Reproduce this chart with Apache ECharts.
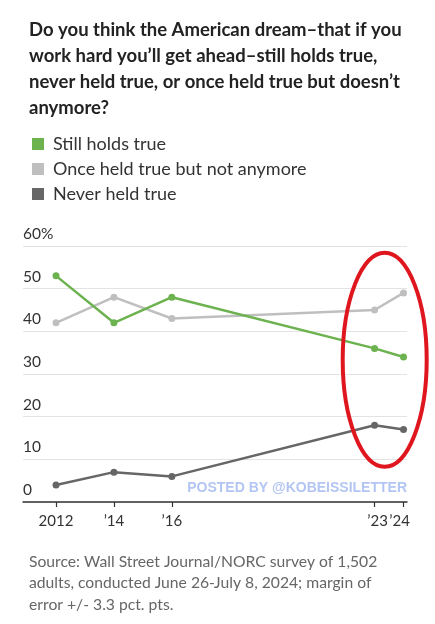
<!DOCTYPE html>
<html>
<head>
<meta charset="utf-8">
<script src="https://cdn.jsdelivr.net/npm/echarts@6/dist/echarts.min.js"></script>
<style>
html,body{margin:0;padding:0;background:#fff;}
#c{width:435px;height:624px;}
</style>
</head>
<body>
<div id="c"></div>
<script>
const years = [2012, 2014, 2016, 2023, 2024];
const tickYears = [2012, 2014, 2016, 2023, 2024];
const stillHolds = [53, 42, 48, 36, 34];
const onceHeld = [42, 48, 43, 45, 49];
const neverHeld = [4, 7, 6, 18, 17];
const seriesNames = ['Still holds true', 'Once held true but not anymore', 'Never held true'];
const yTicks = [0, 10, 20, 30, 40, 50, 60];

const FONT = 'Lato';
const colors = ['#6cb34f', '#bfbfbf', '#666666'];

function pairs(vals){ return years.map((y,i)=>[y, vals[i]]); }

const chart = echarts.init(document.getElementById('c'), null, {renderer:'canvas'});
const lineSeries = [stillHolds, onceHeld, neverHeld].map((vals, i) => ({
  name: seriesNames[i],
  type: 'line',
  data: pairs(vals),
  symbol: 'circle',
  symbolSize: 7,
  lineStyle: {width: 2.5, color: colors[i]},
  itemStyle: {color: colors[i]},
  emphasis: {disabled: true},
  z: 3 - i + 2
}));

chart.setOption({
  animation: false,
  backgroundColor: '#fff',
  textStyle: {fontFamily: FONT},
  title: [{
    text: 'Do you think the American dream–that if you\nwork hard you’ll get ahead–still holds true,\nnever held true, or once held true but doesn’t\nanymore?',
    left: 24, top: 12,
    textStyle: {fontFamily: FONT, fontWeight: 'bold', fontSize: 18.5, lineHeight: 26, color: '#222'}
  }, {
    text: 'Source: Wall Street Journal/NORC survey of 1,502\nadults, conducted June 26-July 8, 2024; margin of\nerror +/- 3.3 pct. pts.',
    left: 24, top: 546,
    textStyle: {fontFamily: FONT, fontWeight: 'normal', fontSize: 15.7, lineHeight: 21.5, color: '#666'}
  }],
  legend: {
    orient: 'vertical',
    left: 27, top: 130,
    icon: 'rect',
    itemWidth: 12, itemHeight: 12,
    itemGap: 7,
    selectedMode: false,
    textStyle: {fontFamily: FONT, fontSize: 18, lineHeight: 18, color: '#333', padding: [0,0,0,4]},
    data: seriesNames
  },
  grid: {left: 23, right: 28, top: 246, bottom: 122, containLabel: false},
  xAxis: {
    type: 'value',
    min: 2010.86, max: 2024.12,
    splitLine: {show: false},
    axisLine: {show: true, lineStyle: {color: '#333', width: 1.5}},
    axisTick: {show: true, customValues: tickYears, length: 5, lineStyle: {color: '#333', width: 1.2}},
    axisLabel: {
      customValues: tickYears,
      showMinLabel: true, showMaxLabel: true,
      hideOverlap: false,
      margin: 12,
      fontSize: 15, color: '#333', fontFamily: FONT,
      formatter: v => {
        if (v === 2012) return '2012';
        const s = '’' + String(v).slice(2);
        if (v === 2023) return '{a|' + s + '}';
        if (v === 2024) return '{b|' + s + '}';
        return s;
      },
      rich: {
        a: {fontSize: 15, color: '#333', fontFamily: FONT, padding: [0,0,0,6]},
        b: {fontSize: 15, color: '#333', fontFamily: FONT, padding: [0,8,0,0]}
      }
    }
  },
  yAxis: {
    type: 'value',
    min: 0, max: 60, interval: 10,
    axisLine: {show: false},
    axisTick: {show: false},
    splitLine: {show: true, lineStyle: {color: '#e3e3e3', width: 1}},
    axisLabel: {
      inside: true, margin: 0,
      verticalAlign: 'bottom',
      padding: [0,0,4,0],
      fontSize: 15.5, color: '#333', fontFamily: FONT,
      formatter: v => v === 60 ? '60%' : String(v)
    }
  },
  series: lineSeries,
  graphic: [{
    type: 'text',
    right: 28, top: 481,
    style: {text: 'POSTED BY @KOBEISSILETTER', font: 'bold 14px "Liberation Sans", Arial, sans-serif', fill: '#b3c5f3'},
    z: 1
  }, {
    type: 'ellipse',
    shape: {cx: 384.7, cy: 359.8, rx: 42, ry: 107},
    style: {fill: 'none', stroke: '#e0161f', lineWidth: 4},
    z: 100
  }]
});
</script>
</body>
</html>
